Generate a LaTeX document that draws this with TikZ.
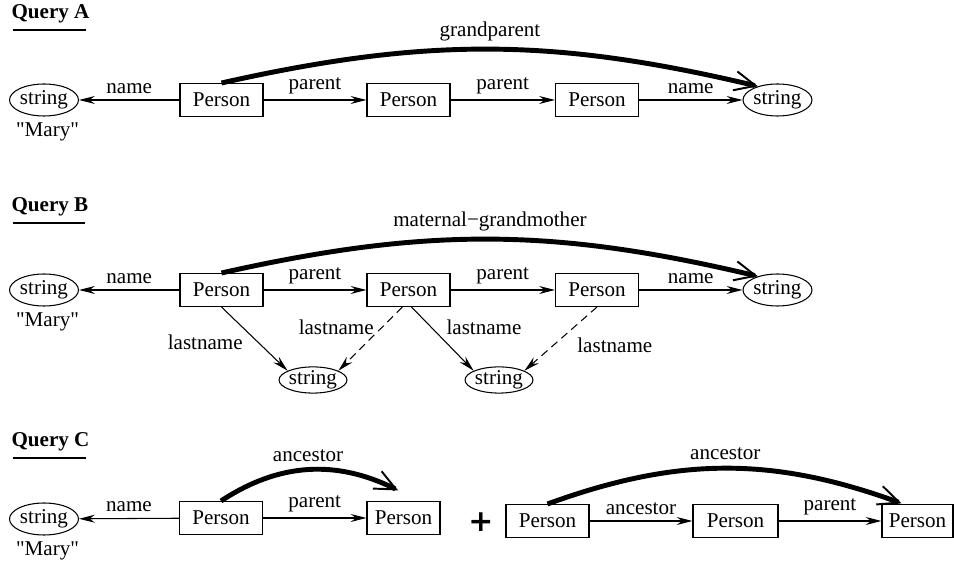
\documentclass[tikz,border=0pt]{standalone}
\usepackage{fontspec}
\setmainfont{Liberation Serif}
\newfontfamily\plusfont{DejaVu Sans}
\usetikzlibrary{positioning}
\usetikzlibrary{shapes.geometric}
\usetikzlibrary{arrows.meta}

\begin{document}
\begin{tikzpicture}[x=0.02cm,y=0.02cm,
                    font=\fontsize{12}{14}\selectfont,
                    line width=0.6pt,
                    entity/.style={draw,rectangle,inner sep=0pt,
                                   minimum width=1.66cm,minimum height=0.66cm},
                    literal/.style={draw,ellipse,inner sep=0pt,
                                    minimum width=1.38cm,minimum height=0.64cm},
                    small literal/.style={literal,minimum width=1.32cm,
                                          minimum height=0.52cm},
                    attr/.style={-{Stealth[length=9pt,width=4.5pt,inset=3pt]}},
                    inferred/.style={attr,dash pattern=on 4.5pt off 3pt},
                    derived/.style={line width=2.8pt,
                                    -{Straight Barb[length=12pt,width=11pt,line width=1.1pt]}},
                    heading/.style={anchor=base west,inner sep=0pt,
                                    font=\fontsize{12}{14}\selectfont\bfseries},
                    rule/.style={line width=1.1pt}]
\useasboundingbox (0,0) rectangle (954,-563);
% Headings
\foreach \q/\Q/\y in {a/A/-19,b/B/-212,c/C/-447}
{
  \node [heading] (title \q) at (11,\y) {Query \Q};
  \draw [rule] ([yshift=-3.5pt,xshift=1pt]title \q.south west)
            -- ([yshift=-3.5pt,xshift=-2pt]title \q.south east);
}
% The literal "Mary" on the left of every query
\foreach \q/\y in {a/-100,b/-290,c/-519}
{
  \node [literal] (string \q) at (44,\y) {string};
  \node [below=0pt of string \q,xshift=2pt] (mary \q) {\textquotedbl Mary\textquotedbl};
}
% Query A and Query B
\foreach \n/\x in {1/221.5,2/408.5,3/597}
{
  \node [entity] (person a\n) at (\x,-100) {Person};
  \node [entity] (person b\n) at (\x,-290) {Person};
}
\node [literal] (string a right) at (777.5,-100) {string};
\node [literal] (string b right) at (777.5,-290) {string};
\node [small literal] (string b1) at (313,-380) {string};
\node [small literal] (string b2) at (499,-380) {string};
%
\draw [attr] (person a1) -- node[above] {name} (string a);
\draw [attr] (person a1) -- node[above] {parent} (person a2);
\draw [attr] (person a2) -- node[above] {parent} (person a3);
\draw [attr] (person a3) -- node[above] {name} (string a right);
\draw [derived] (person a1.north) to[bend left=13]
                node[above] {grandparent} (string a right.145);
%
\draw [attr] (person b1) -- node[above] {name} (string b);
\draw [attr] (person b1) -- node[above] {parent} (person b2);
\draw [attr] (person b2) -- node[above] {parent} (person b3);
\draw [attr] (person b3) -- node[above] {name} (string b right);
\draw [derived] (person b1.north) to[bend left=13]
                node[above] {maternal−grandmother} (string b right.145);
\draw [attr] (person b1.south) -- node[left=5pt,pos=0.55] {lastname} (string b1.160);
\draw [inferred] (person b2.250) -- node[left=1pt,pos=0.32] {lastname} (string b1.20);
\draw [attr] (person b2.280) -- node[right=5pt,pos=0.32] {lastname} (string b2.160);
\draw [inferred] (person b3.south) -- node[right=10pt,pos=0.6] {lastname} (string b2.20);
% Query C
\node [entity] (person c1) at (221,-518) {Person};
\node [entity,minimum width=1.46cm] (person c2) at (403.5,-518) {Person};
\node [font=\fontsize{17}{17}\selectfont\plusfont\bfseries] (plus) at (481,-522) {+};
\node [entity] (person c3) at (547.5,-521) {Person};
\node [entity,minimum width=1.70cm] (person c4) at (735.5,-521) {Person};
\node [entity,minimum width=1.42cm] (person c5) at (917.5,-521) {Person};
%
\draw [attr] (person c1) -- node[above] {name} (string c);
\draw [attr] (person c1) -- node[above] {parent} (person c2);
\draw [derived] (person c1.north) to[bend left=30]
                node[above] {ancestor} ([xshift=-3pt,yshift=6pt]person c2.north);
\draw [attr] (person c3) -- node[above] {ancestor} (person c4);
\draw [attr] (person c4) -- node[above] {parent} (person c5);
\draw [derived,shorten >=1pt] (person c3.north) to[bend left=20]
                node[above] {ancestor} (person c5.130);
\end{tikzpicture}
\end{document}
